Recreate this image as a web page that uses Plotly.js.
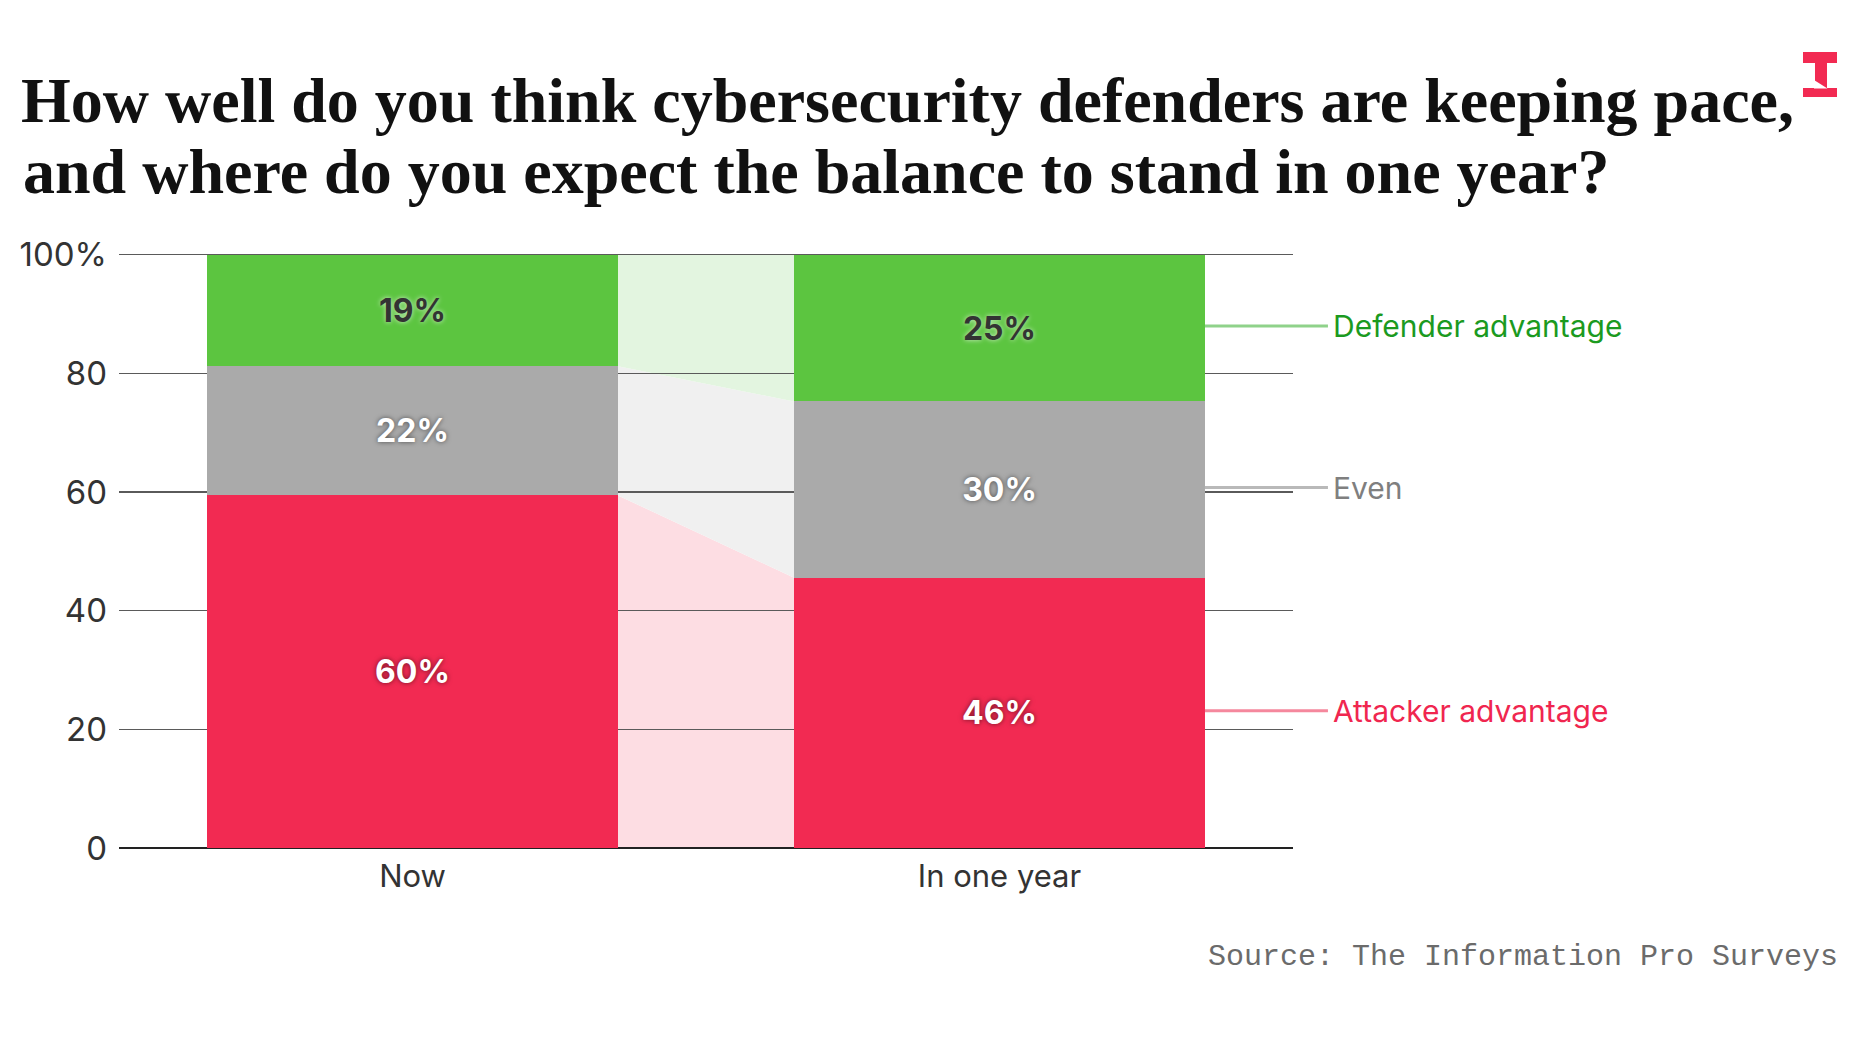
<!DOCTYPE html>
<html>
<head>
<meta charset="utf-8">
<script src="https://cdn.plot.ly/plotly-3.0.1.min.js"></script>
<style>
  html, body { margin: 0; padding: 0; background: #ffffff; }
  #chart { width: 1860px; height: 1046px; }
</style>
</head>
<body>
<div id="chart"></div>
<script>
// Survey answers (raw percentages as reported; each column sums to ~101 due to rounding)
const periods = ['Now', 'In one year'];
const attacker = [60, 46];
const even = [22, 30];
const defender = [19, 25];

const seriesNames = ['Attacker advantage', 'Even', 'Defender advantage'];
const yTickVals = [0, 20, 40, 60, 80, 100];
const yTickText = ['0', '20', '40', '60', '80', '100%'];

const titleLines = [
  'How well do you think cybersecurity defenders are keeping pace,',
  'and where do you expect the balance to stand in one year?'
];
const sourceText = 'Source: The Information Pro Surveys';

// Colours
const barColors = ['#f22a52', '#aaaaaa', '#5cc540'];
const flowColors = ['#fddde3', '#f0f0f0', '#e3f5e0'];
const lineColors = ['#f5889d', '#b9b9b9', '#8fd28a'];
const nameColors = ['#f0264f', '#7f7f7f', '#1b9a1f'];

const W = 1860, H = 1046;
const Y_MAX = 100.6;
const plotBottom = 848, plotTopAt100 = 255;
const plotH = (plotBottom - plotTopAt100) * Y_MAX / 100;
const M = { l: 119, r: 567, t: Math.round(plotBottom - plotH), b: H - plotBottom };
const plotW = W - M.l - M.r;
// pixel -> paper helpers for decorations placed outside the plot area
const px = x => (x - M.l) / plotW;
const py = y => (H - M.b - y) / (H - M.t - M.b);

const barWidth = 0.7;
const series = [attacker, even, defender];

// stacked bars are normalised to 100% per column
const totals = periods.map((_, i) => series.reduce((s, arr) => s + arr[i], 0));
const norm = series.map(arr => arr.map((v, i) => v / totals[i] * 100));
// cumulative bottoms/tops per series & column
const bottoms = [], tops = [];
norm.forEach((arr, k) => {
  bottoms.push(arr.map((v, i) => k === 0 ? 0 : tops[k - 1][i]));
  tops.push(arr.map((v, i) => bottoms[k][i] + v));
});

const labelFont = [
  { color: '#ffffff', shadow: '0px 0px 5px rgba(0,0,0,0.55)' },
  { color: '#ffffff', shadow: '0px 0px 5px rgba(0,0,0,0.55)' },
  { color: '#333333', shadow: '0px 0px 5px rgba(255,255,255,0.7)' }
];

const traces = series.map((arr, k) => ({
  type: 'bar',
  name: seriesNames[k],
  x: periods,
  y: arr,
  text: arr.map(v => v + '%'),
  texttemplate: '%{text}',
  textposition: 'inside',
  insidetextanchor: 'middle',
  textangle: 0,
  constraintext: 'none',
  insidetextfont: { family: 'Inter, sans-serif', size: 32, weight: 700,
                    color: labelFont[k].color, shadow: labelFont[k].shadow },
  marker: { color: barColors[k], line: { width: 0 } },
  hoverinfo: 'skip'
}));

// flow bands between the two columns, drawn beneath the gridlines
const x0 = 0 + barWidth / 2, x1 = 1 - barWidth / 2;
const shapes = series.map((_, k) => ({
  type: 'path',
  xref: 'x', yref: 'y',
  path: `M ${x0},${bottoms[k][0]} L ${x0},${tops[k][0]} L ${x1},${tops[k][1]} L ${x1},${bottoms[k][1]} Z`,
  fillcolor: flowColors[k],
  line: { width: 0 },
  layer: 'below'
}));

// logo mark
const logo = [
  [1803, 52], [1837, 52], [1837, 63], [1827, 63], [1827, 88], [1837, 88], [1837, 97],
  [1803, 97], [1803, 88], [1815, 88], [1815, 80], [1815, 63], [1803, 63]
];
shapes.push({
  type: 'path', xref: 'paper', yref: 'paper',
  path: 'M ' + logo.map(p => px(p[0]).toFixed(5) + ',' + py(p[1]).toFixed(5)).join(' L ') + ' Z',
  fillcolor: '#f22a52', line: { width: 0 }, layer: 'above'
});
// notch on the stem
shapes.push({
  type: 'path', xref: 'paper', yref: 'paper',
  path: `M ${px(1814)},${py(80)} L ${px(1827.5)},${py(88.5)} L ${px(1814)},${py(88.5)} Z`,
  fillcolor: '#ffffff', line: { width: 0 }, layer: 'above'
});

// series names next to the second column
const annotations = series.map((_, k) => ({
  xref: 'x', yref: 'y',
  x: 1 + barWidth / 2,
  y: (bottoms[k][1] + tops[k][1]) / 2,
  text: seriesNames[k],
  showarrow: true, arrowhead: 0, arrowwidth: 3, arrowcolor: lineColors[k],
  ax: 123, ay: 0, xanchor: 'left', standoff: 0, startstandoff: 0,
  borderpad: 4, yshift: 2,
  font: { family: 'Inter, sans-serif', size: 30, color: nameColors[k] }
}));

// second title line
annotations.push({
  xref: 'paper', yref: 'paper',
  x: px(21), y: py(171),
  xanchor: 'left', yanchor: 'middle',
  text: titleLines[1],
  showarrow: false,
  font: { family: '"Liberation Serif", serif', size: 64, weight: 700, color: '#111111' }
});

annotations.push({
  xref: 'paper', yref: 'paper',
  x: px(1840), y: py(957),
  xanchor: 'right', yanchor: 'middle',
  text: sourceText,
  showarrow: false,
  font: { family: '"Liberation Mono", "DejaVu Sans Mono", monospace', size: 30, color: '#6b6b6b' }
});

const layout = {
  width: W, height: H,
  margin: M,
  paper_bgcolor: '#ffffff', plot_bgcolor: '#ffffff',
  barmode: 'stack',
  barnorm: 'percent',
  bargap: 1 - barWidth,
  showlegend: false,
  font: { family: 'Inter, sans-serif', color: '#333333' },
  title: {
    text: titleLines[0],
    font: { family: '"Liberation Serif", serif', size: 64, weight: 700, color: '#111111' },
    x: 21 / W, xref: 'container', xanchor: 'left',
    y: 1 - 100 / H, yref: 'container', yanchor: 'middle'
  },
  xaxis: {
    type: 'category',
    range: [-0.5, 1.5],
    showgrid: false, showline: false, zeroline: false,
    ticks: '', ticklabelstandoff: 7,
    tickfont: { family: 'Inter, sans-serif', size: 31, color: '#333333' },
    fixedrange: true
  },
  yaxis: {
    range: [0, Y_MAX],
    tickvals: yTickVals, ticktext: yTickText,
    showgrid: true, gridcolor: '#5a5a5a', gridwidth: 1.5,
    zeroline: true, zerolinecolor: '#222222', zerolinewidth: 2,
    showline: false, ticks: '', ticklabelstandoff: 11,
    tickfont: { family: 'Inter, sans-serif', size: 33, color: '#333333' },
    fixedrange: true
  },
  shapes: shapes,
  annotations: annotations
};

Plotly.newPlot('chart', traces, layout, { displayModeBar: false, staticPlot: true });
</script>
</body>
</html>
